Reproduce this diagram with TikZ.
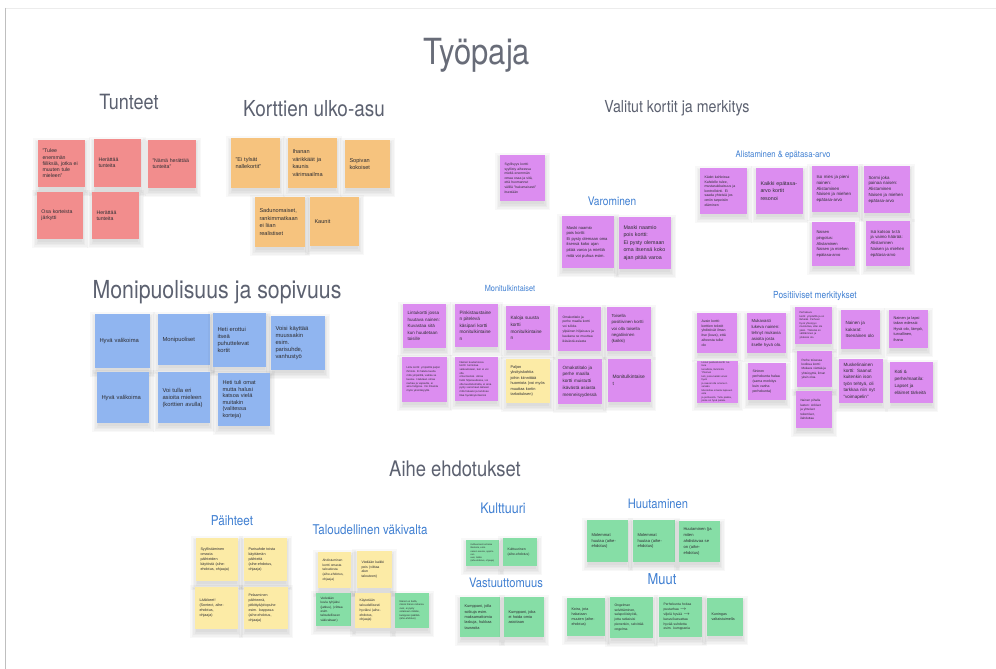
\documentclass[tikz,border=0pt]{standalone}
\usepackage{fontspec}
\setmainfont{Liberation Sans}
\newfontfamily\headfont{TeX Gyre Heros}[FakeStretch=0.86]

\definecolor{pinknote}{HTML}{F28D8D}
\definecolor{orangenote}{HTML}{F6C37E}
\definecolor{bluenote}{HTML}{90B5F0}
\definecolor{purplenote}{HTML}{DC8DF0}
\definecolor{yellownote}{HTML}{FCEBA6}
\definecolor{greennote}{HTML}{86DEA6}
\definecolor{headgray}{HTML}{5C6170}
\definecolor{titlegray}{HTML}{686C78}
\definecolor{headblue}{HTML}{3F7FD2}
\definecolor{notetext}{HTML}{2E2E33}

\tikzset{
  stickybox/.style={inner xsep=4.5pt, inner ysep=1pt, align=left, text=notetext, anchor=center},
  heading/.style={text=headgray, anchor=base, inner sep=0pt},
  subheading/.style={text=headblue, anchor=base, inner sep=0pt},
}

% \sticky{name}{x1}{y1}{x2}{y2}{fill}{font size}{baselineskip}{text}
\newcommand\sticky[9]{%
  \pgfmathsetmacro\stw{#4-#2-9}%
  \pgfmathsetmacro\sth{#5-#3}%
  \foreach \shd in {0,1.5,3,4.5,6}{%
    \fill[black,opacity=.028] (#2+1-\shd,#3+4-\shd) rectangle (#4-1+\shd,#5+3+\shd);}%
  \node[stickybox,fill=#6,text width=\stw pt,minimum height=\sth pt,
        font=\fontsize{#7}{#8}\selectfont] (#1) at ({(#2+#4)/2},{(#3+#5)/2}) {#9};}

\begin{document}
\begin{tikzpicture}[x=1pt,y=-1pt]
\useasboundingbox (0,0) rectangle (996,669);
\fill[white] (0,0) rectangle (996,669);
% board edges
\draw[gray!15, line width=.8pt] (5,8) -- (996,8);
\draw[gray!50, line width=1pt] (5,8) -- (5,669);

% ---------- headings ----------
\node[heading, text=titlegray, font=\headfont\fontsize{36}{40}\selectfont] (title) at (477,65) {Työpaja};
\node[heading, font=\headfont\fontsize{21}{24}\selectfont] (hTunteet) at (129,110) {Tunteet};
\node[heading, font=\headfont\fontsize{22}{25}\selectfont] (hUlkoasu) at (314,116) {Korttien ulko-asu};
\node[heading, font=\headfont\fontsize{16.5}{19}\selectfont] (hValitut) at (677,112) {Valitut kortit ja merkitys};
\node[heading, font=\headfont\fontsize{24.8}{28}\selectfont] (hMoni) at (217,298) {Monipuolisuus ja sopivuus};
\node[heading, font=\headfont\fontsize{21.4}{24}\selectfont] (hAihe) at (455,476) {Aihe ehdotukset};

\node[subheading, font=\headfont\fontsize{11.8}{14}\selectfont] (hVaro) at (612,205) {Varominen};
\node[subheading, font=\headfont\fontsize{9}{11}\selectfont] (hAlist) at (783,157) {Alistaminen \& epätasa-arvo};
\node[subheading, font=\headfont\fontsize{8.5}{10}\selectfont] (hMonit) at (510,291) {Monitulkintaiset};
\node[subheading, font=\headfont\fontsize{9.7}{11}\selectfont] (hPosit) at (815,298) {Positiiviset merkitykset};
\node[subheading, font=\headfont\fontsize{13.6}{16}\selectfont] (hPaih) at (232,525) {Päihteet};
\node[subheading, font=\headfont\fontsize{13.4}{16}\selectfont] (hTalous) at (370,534) {Taloudellinen väkivalta};
\node[subheading, font=\headfont\fontsize{14.5}{17}\selectfont] (hKult) at (503,513) {Kulttuuri};
\node[subheading, font=\headfont\fontsize{13}{15}\selectfont] (hVast) at (506,587) {Vastuuttomuus};
\node[subheading, font=\headfont\fontsize{13}{15}\selectfont] (hHuut) at (658,508) {Huutaminen};
\node[subheading, font=\headfont\fontsize{15}{17}\selectfont] (hMuut) at (662,584) {Muut};

% ---------- Tunteet ----------
\sticky{t1}{38}{140}{85}{187}{pinknote}{5.2}{6.2}{”Tulee\\enemmän\\fiiliksiä, jotka ei\\muuten tule\\mieleen”}
\sticky{t2}{94}{139}{141}{187}{pinknote}{5.2}{6.2}{Herättää\\tunteita}
\sticky{t3}{148}{140}{196}{188}{pinknote}{5.2}{6.2}{”Nämä herättää\\tunteita”}
\sticky{t4}{37}{192}{83}{239}{pinknote}{5.2}{6.2}{Osa korteista\\järkytti}
\sticky{t5}{92}{192}{139}{239}{pinknote}{5.2}{6.2}{Herättää\\tunteita}

% ---------- Korttien ulko-asu ----------
\sticky{k1}{231}{138}{280}{188}{orangenote}{5.6}{7.4}{”Ei tylsät\\nallekortit”}
\sticky{k2}{288}{138}{337}{188}{orangenote}{5.6}{7.4}{Ihanan\\värikkäät ja\\kaunis\\värimaailma}
\sticky{k3}{345}{140}{390}{188}{orangenote}{5.6}{7.4}{Sopivan\\kokoiset}
\sticky{k4}{255}{197}{305}{247}{orangenote}{5.6}{7.4}{Sadunomaiset,\\rankimmatkaan\\ei liian\\realistiset}
\sticky{k5}{310}{197}{359}{246}{orangenote}{5.6}{7.4}{Kaunit}

% ---------- Monipuolisuus ja sopivuus ----------
\sticky{m1}{95}{314}{150}{368}{bluenote}{5.8}{7}{Hyvä valikoima}
\sticky{m2}{158}{314}{210}{365}{bluenote}{5.8}{7}{Monipuoliset}
\sticky{m3}{213}{313}{266}{367}{bluenote}{5.8}{7}{Heti erottui\\itseä\\puhuttelevat\\kortit}
\sticky{m4}{271}{316}{325}{370}{bluenote}{5.8}{7}{Voisi käyttää\\muussakin\\esim.\\parisuhde,\\vanhustyö}
\sticky{m5}{97}{372}{149}{423}{bluenote}{5.8}{7}{Hyvä valikoima}
\sticky{m6}{158}{372}{210}{423}{bluenote}{5.8}{7}{Voi tulla eri\\asioita mieleen\\(korttien avulla)}
\sticky{m7}{218}{373}{270}{426}{bluenote}{5.6}{6.6}{Heti tuli omat\\mutta halusi\\katsoa vielä\\muitakin\\(valitessa\\korteja)}

% ---------- Valitut kortit ----------
\sticky{v0}{500}{155}{545}{201}{purplenote}{3.4}{4.6}{Syyllisyys kortti:\\syyllisty aiheessa\\mieltä enemmän\\omaa osaa ja sitä,\\että huomannut\\välillä ”hakumaisesti”\\itsestään}
\sticky{v1}{562}{216}{614}{268}{purplenote}{4.1}{5.6}{Maski naamio\\pois kortti:\\Ei pysty olemaan oma\\itsensä koko ajan\\pitää varoa ja miettiä\\mitä voi puhua esim.}
\sticky{v2}{619}{217}{671}{269}{purplenote}{5.3}{7.4}{Maski naamio\\pois kortti:\\Ei pysty olemaan\\oma itsensä koko\\ajan pitää varoa}

\sticky{a1}{700}{168}{747}{214}{purplenote}{3.5}{4.6}{Kädet kahleissa:\\Kahdelle tulee,\\mustasukkaisuus ja\\kontrollointi. Ei\\saada yhteisiä jos\\omiin tarpeisiin\\eläminen}
\sticky{a2}{756}{168}{803}{214}{purplenote}{5.3}{7.2}{Kaikki epätasa-\\arvo kortit\\resonoi}
\sticky{a3}{812}{166}{858}{212}{purplenote}{4.4}{5.8}{Iso mies ja pieni\\nainen:\\Alistaminen\\Naisen ja miehen\\epätasa-arvo}
\sticky{a4}{864}{166}{910}{213}{purplenote}{4.4}{5.8}{Sormi joka\\painaa naisen:\\Alistaminen\\Naisen ja miehen\\epätasa-arvo}
\sticky{a5}{812}{222}{855}{266}{purplenote}{4.1}{5.8}{Naisen\\pingotus:\\Alistaminen\\Naisen ja miehen\\epätasa-arvo}
\sticky{a6}{866}{221}{910}{266}{purplenote}{4.3}{5.8}{Isä katsoo tv:tä\\ja vaimo häärää:\\Alistaminen\\Naisen ja miehen\\epätasa-arvo}

\sticky{mt1}{403}{304}{446}{348}{purplenote}{4.5}{6.6}{Lintukortti jossa\\huutava nainen:\\Kuvastaa sitä\\kun huudetaan\\toisille}
\sticky{mt2}{455}{304}{498}{347}{purplenote}{4.7}{6.6}{Pinkistaustaine\\n pitelevä\\käsipari kortti\\monitulkintaine\\n}
\sticky{mt3}{506}{306}{550}{350}{purplenote}{4.7}{6.6}{Kaloja suusta\\kortti\\monitulkintaine\\n}
\sticky{mt4}{558}{307}{601}{351}{purplenote}{3.3}{4.8}{Omakotitalo ja\\perhe maalla kortti\\voi tulkita\\ylipäinen hiljaisuus ja\\kaukana se muuttaa\\ikävästä asiasta}
\sticky{mt5}{607}{307}{651}{351}{purplenote}{4.3}{6.2}{Toisella\\positiivinen kortti\\voi olla toisella\\negatiivinen\\(kaikki)}
\sticky{mt6}{402}{357}{447}{402}{purplenote}{2.7}{3.8}{Lintu kortti: ympärillä paljon\\ihmisiä. Ei haluta kuulla\\mitä ympärillä, vaikka se\\kuuluu. Halutaan omaa\\rauhaa ja vapautta, ei\\aina helppoa. Voi ilmaista\\myös yksinäisyyttä.}
\sticky{mt7}{455}{357}{498}{401}{purplenote}{2.7}{3.7}{Nainen kuutamossa\\kortti: tunnistaa\\vaikeuksiaan, kun ei voi olla\\oma itsensä. Ainoa\\hetki hiljaisuudessa, voi\\olla kuuntelematta, ei aina\\pysty sanomaan ääneen\\mitä haluaisi ja tarvitsee\\tilaa hyväksyä itsensä}
\sticky{mt8}{506}{359}{550}{403}{yellownote}{3.9}{5.4}{Paljon\\yksityiskohtia\\joihin kiinnittää\\huomiota (voi myös\\muuttaa kortin\\tarkoituksen)}
\sticky{mt9}{558}{359}{602}{404}{purplenote}{4.6}{6.8}{Omakotitalo ja\\perhe maalla\\kortti muistutti\\ikävästä asiasta\\menneisyydessä}
\sticky{mt10}{608}{359}{651}{402}{purplenote}{4.9}{6.8}{Monitulkintaise\\t}

\sticky{p1}{697}{313}{737}{353}{purplenote}{3.5}{4.8}{Avain kortti:\\korttien tekstit\\yhdistivät ilman\\itse (kuva), että\\aiheesta tullut\\olo}
\sticky{p2}{747}{313}{786}{353}{purplenote}{4.3}{6}{Mukavasti\\lukeva nainen:\\tehnyt mukavia\\asioita josta\\itselle hyvä olo.}
\sticky{p3}{795}{307}{832}{344}{purplenote}{2.6}{3.5}{Perhekuva\\kortti: ympärillä ja on\\tärkeää. Perheen\\hyvä yhteisyys\\muistuttaa, ettei ole\\yksin. Tärkeää on\\välittäminen ja\\yhdessä olo.}
\sticky{p4}{841}{310}{880}{349}{purplenote}{4.5}{6.5}{Nainen ja\\kakarat:\\Itsenäinen olo}
\sticky{p5}{889}{310}{928}{348}{purplenote}{3.9}{5.5}{Nainen ja lapsi\\takan edessä:\\Hyvä olo, lämpö,\\turvallinen,\\ihana}
\sticky{p6}{697}{362}{738}{402}{purplenote}{2.5}{3.5}{Linnut pesässä kortti: kotona\\turvallista, lämmintä. Yhteinen\\koti, jossa kaikki voivat hyvin\\ja saavat olla omana itsenään.\\Muistuttaa omasta lapsuudesta\\ja perheestä. Tuttu paikka,\\jonne on hyvä palata.}
\sticky{p7}{748}{363}{786}{400}{purplenote}{3.5}{5}{Sininen\\perhekunta halaa\\(sama merkitys\\kuin vanha\\perhekunta)}
\sticky{p8}{797}{351}{832}{387}{purplenote}{3.1}{4.4}{Perhe toisessa\\kodissa kortti:\\Mukava viettää ja\\yhteisyyttä, ilman\\yksin oloa.}
\sticky{p9}{839}{359}{883}{403}{purplenote}{4.6}{6.4}{Muskelinainen\\kortti: Saanut\\kuitenkin ison\\työn tehtyä, oli\\tarkkaa niin nyt\\”voimapelin”}
\sticky{p10}{890}{362}{933}{403}{purplenote}{4.6}{6.8}{Koti \&\\perhe/maatila:\\Lapset ja\\eläimet tärkeitä}
\sticky{p11}{796}{391}{832}{428}{purplenote}{3.1}{4.4}{Nainen pihalla\\lasten: Arkiset\\ja yhteiset\\tekemiset,\\ilahduttaa}

% ---------- Aihe ehdotukset ----------
\sticky{ph1}{196}{538}{238}{581}{yellownote}{3.7}{5}{Syyllistäminen\\omasta\\päihteiden\\käytöstä (aihe-\\ehdotus, ohjaaja)}
\sticky{ph2}{244}{538}{287}{581}{yellownote}{3.7}{5}{Parisuhde toista\\käyttämän\\päihteitä\\(aihe-ehdotus,\\ohjaaja)}
\sticky{ph3}{195}{587}{238}{629}{yellownote}{3.7}{5}{Lääkkeet!\\(Sontect, aihe-\\ehdotus,\\ohjaaja)}
\sticky{ph4}{244}{587}{288}{629}{yellownote}{3.6}{5}{Pelaaminen\\päihteenä,\\pitkittyä/pitopuhe\\esim. loappasa\\(aihe-ehdotus,\\ohjaaja)}

\sticky{tv1}{318}{552}{351}{588}{yellownote}{3.3}{4.6}{Ahdistuminen\\kortti omasta\\taloudesta\\(aihe-ehdotus,\\ohjaaja)}
\sticky{tv2}{357}{551}{392}{588}{yellownote}{3.5}{4.8}{Viedään kaikki\\pois (viittaa\\alun\\talouteen)}
\sticky{tv3}{316}{593}{351}{626}{greennote}{3.2}{4.4}{Vedetään\\kuvia tyhjäksi\\(jatkuu), (viittaa\\esim.\\taloudelliseen\\väkivaltaan)}
\sticky{tv4}{355}{593}{391}{628}{yellownote}{3.4}{4.7}{Käytetään\\taloudellisesti\\hyväksi (aihe-\\ehdotus,\\ohjaaja)}
\sticky{tv5}{395}{593}{429}{628}{greennote}{2.5}{3.5}{Nainen ei tiedä,\\missä hänen rahansa\\ovat, ei pysty\\ostamaan mitään,\\kumppani päättää\\(aihe-ehdotus)}

\sticky{ku1}{466}{540}{499}{566}{greennote}{2.3}{3.1}{Kulttuurisesti erilaisia\\tilanteita, esim.\\naisen asema, oppiminen\\uusi, tietää\\(aihe-ehdotus, ohjaaja)}
\sticky{ku2}{503}{538}{537}{566}{greennote}{3.4}{4.6}{Kulttuurinen\\(aihe-ehdotus)}

\sticky{vs1}{460}{597}{500}{637}{greennote}{3.9}{5.4}{Kumppani, jolla\\sotkuja esim.\\maksamattomia\\laskuja, hukkaa\\tavaroita}
\sticky{vs2}{504}{597}{544}{637}{greennote}{3.9}{5.4}{Kumppani, joka\\ei hoida omia\\asioitaan}

\sticky{h1}{587}{520}{628}{562}{greennote}{4.1}{5.8}{Molemmat\\huutaa (aihe-\\ehdotus)}
\sticky{h2}{633}{520}{675}{562}{greennote}{4.1}{5.8}{Molemmat\\huutaa (aihe-\\ehdotus)}
\sticky{h3}{679}{521}{720}{562}{greennote}{4.1}{5.8}{Huutaminen (ja\\miten\\ahdistavaa se\\on (aihe-\\ehdotus)}

\sticky{mu1}{567}{598}{605}{636}{greennote}{3.7}{5.1}{Koira, jota\\hakataan\\muuten (aihe-\\ehdotus)}
\sticky{mu2}{610}{597}{653}{638}{greennote}{3.4}{4.8}{Ongelman\\selvittäminen,\\salapoliisityötä,\\jotta ratkaisisi\\pienenkin, selvittää\\ongelma}
\sticky{mu3}{659}{597}{702}{637}{greennote}{3.4}{4.8}{Perhekunta hoitaa\\puutarhaa $\to$\\viljelä hyvää $\to$\\kasvu/kasvattaa\\hyvää suhdetta\\esim. kumppania}
\sticky{mu4}{707}{598}{743}{636}{greennote}{3.7}{5}{Kuningas\\valtaistuimella}
\end{tikzpicture}
\end{document}
